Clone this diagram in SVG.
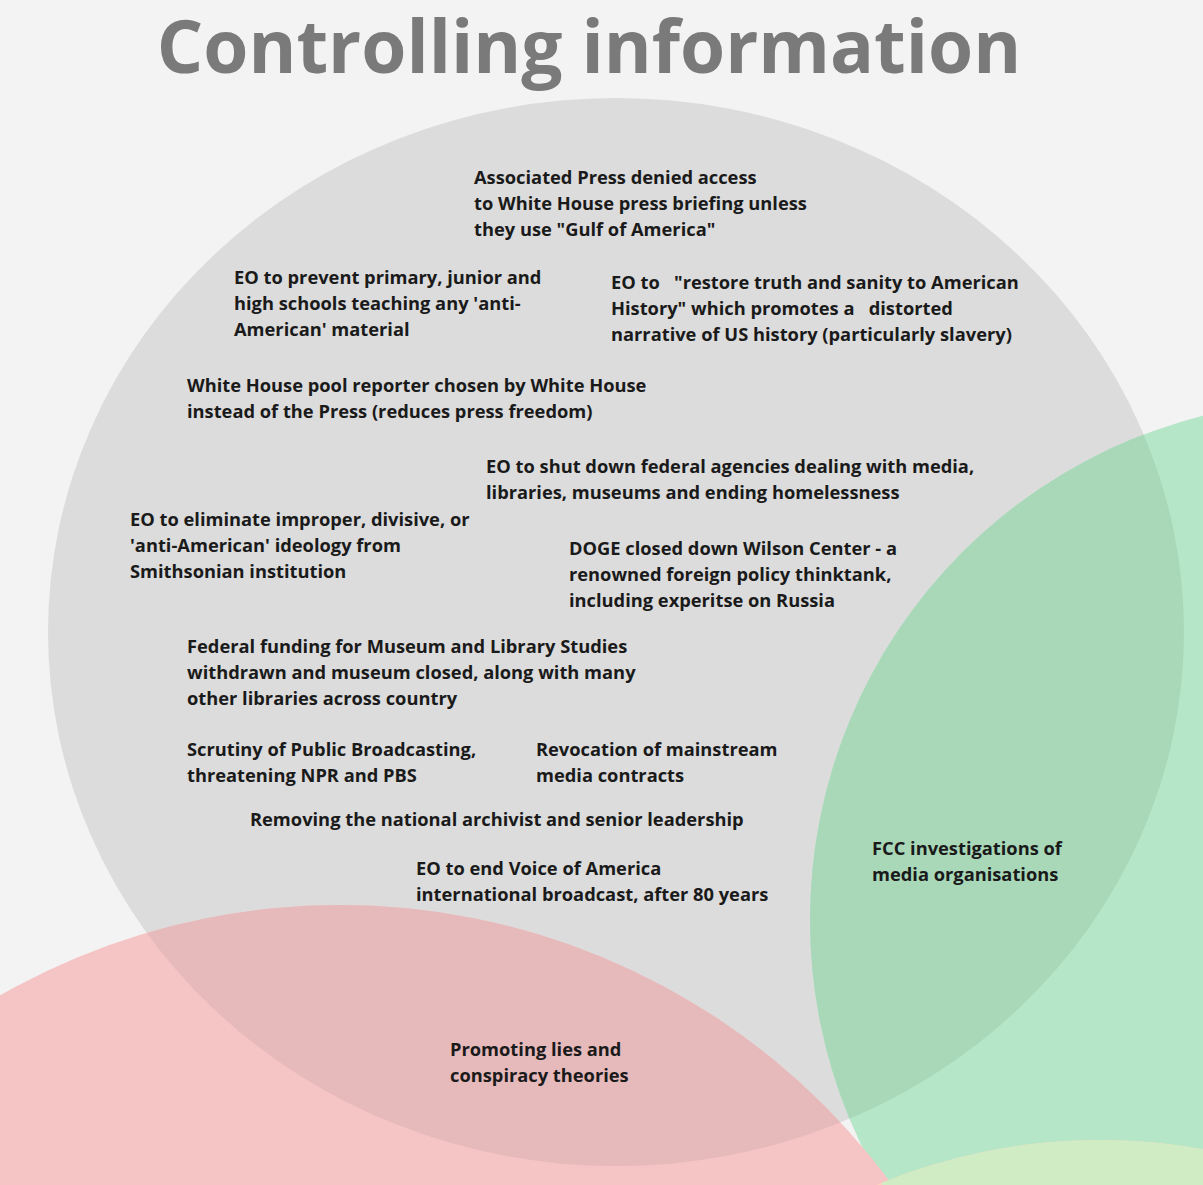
<svg xmlns="http://www.w3.org/2000/svg" width="1203" height="1185" viewBox="0 0 1203 1185">
<style>
.t{font-family:"Open Sans","Noto Sans",sans-serif;font-weight:bold;font-size:18.3px;fill:#1a1a1a}
.h{font-family:"Open Sans","Noto Sans",sans-serif;font-weight:bold;font-size:73px;fill:#7a7a7a}
</style>
<defs>
<clipPath id="cg"><ellipse cx="616" cy="632" rx="568" ry="534"/></clipPath>
<clipPath id="cgr"><circle cx="1330" cy="920" r="520"/></clipPath>
</defs>
<rect width="1203" height="1185" fill="#f3f3f3"/>
<g id="circles">
<ellipse id="info" cx="616" cy="632" rx="568" ry="534" fill="#dcdcdc"/>
<circle id="green" cx="1330" cy="920" r="520" fill="#b5e6c7"/>
<circle id="red" cx="340" cy="1590" r="685" fill="#f5c4c4"/>
<circle cx="1330" cy="920" r="520" fill="#a9d8b9" clip-path="url(#cg)"/>
<circle cx="340" cy="1590" r="685" fill="#e6b9bb" clip-path="url(#cg)"/>
<circle id="yellow" cx="1100" cy="1720" r="580" fill="#fcd3bc"/>
<circle cx="1100" cy="1720" r="580" fill="#d0ecc4" clip-path="url(#cgr)"/>
</g>
<text class="h" x="589" y="73" text-anchor="middle">Controlling information</text>
<g id="labels" class="t">
<text x="474" y="184">Associated Press denied access</text>
<text x="474" y="210">to White House press briefing unless</text>
<text x="474" y="236">they use "Gulf of America"</text>
<text x="234" y="284">EO to prevent primary, junior and</text>
<text x="234" y="310">high schools teaching any 'anti-</text>
<text x="234" y="336">American' material</text>
<text x="611" y="289" xml:space="preserve">EO to   "restore truth and sanity to American</text>
<text x="611" y="315" xml:space="preserve">History" which promotes a   distorted</text>
<text x="611" y="341">narrative of US history (particularly slavery)</text>
<text x="187" y="392">White House pool reporter chosen by White House</text>
<text x="187" y="418">instead of the Press (reduces press freedom)</text>
<text x="486" y="473">EO to shut down federal agencies dealing with media,</text>
<text x="486" y="499">libraries, museums and ending homelessness</text>
<text x="130" y="526">EO to eliminate improper, divisive, or</text>
<text x="130" y="552">'anti-American' ideology from</text>
<text x="130" y="578">Smithsonian institution</text>
<text x="569" y="555">DOGE closed down Wilson Center - a</text>
<text x="569" y="581">renowned foreign policy thinktank,</text>
<text x="569" y="607">including experitse on Russia</text>
<text x="187" y="653">Federal funding for Museum and Library Studies</text>
<text x="187" y="679">withdrawn and museum closed, along with many</text>
<text x="187" y="705">other libraries across country</text>
<text x="187" y="756">Scrutiny of Public Broadcasting,</text>
<text x="187" y="782">threatening NPR and PBS</text>
<text x="536" y="756">Revocation of mainstream</text>
<text x="536" y="782">media contracts</text>
<text x="250" y="826">Removing the national archivist and senior leadership</text>
<text x="416" y="875">EO to end Voice of America</text>
<text x="416" y="901">international broadcast, after 80 years</text>
<text x="872" y="855">FCC investigations of</text>
<text x="872" y="881">media organisations</text>
<text x="450" y="1056">Promoting lies and</text>
<text x="450" y="1082">conspiracy theories</text>
</g>
</svg>
